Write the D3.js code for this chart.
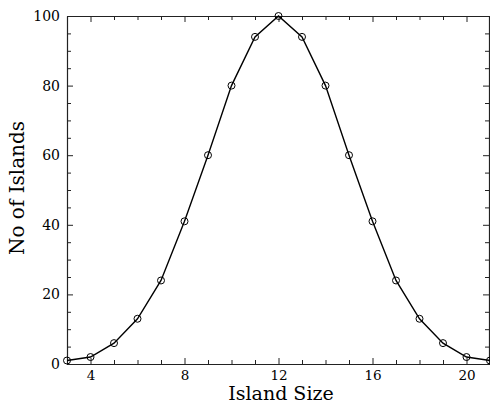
<!DOCTYPE html>
<html>
<head>
<meta charset="utf-8">
<script src="https://cdn.jsdelivr.net/npm/d3@7"></script>
<style>
  html, body { margin: 0; padding: 0; background: #fff; }
  svg { display: block; }
  text { font-family: "DejaVu Serif", serif; fill: #000; }
</style>
</head>
<body>
<svg id="chart" width="490" height="405"></svg>
<script>
// Data
const islandSize = [3, 4, 5, 6, 7, 8, 9, 10, 11, 12, 13, 14, 15, 16, 17, 18, 19, 20, 21];
const noOfIslands = [1, 2, 6, 13, 24, 41, 60, 80, 94, 100, 94, 80, 60, 41, 24, 13, 6, 2, 1];
const xTickLabels = [4, 8, 12, 16, 20];
const yTickLabels = [0, 20, 40, 60, 80, 100];
const xTitle = "Island Size";
const yTitle = "No of Islands";

const svg = d3.select("#chart");
const L = 67, R = 490, T = 16, B = 364;

const x = d3.scaleLinear().domain([3, 21]).range([L, R]);
const y = d3.scaleLinear().domain([0, 100]).range([B, T]);

const xMinor = d3.range(3, 22, 1).filter(v => !xTickLabels.includes(v));
const yMinor = d3.range(0, 101, 5).filter(v => !yTickLabels.includes(v));

function drawAxis(g, axisFn, scale, major, minor, showLabels, pad, fs) {
  const a = axisFn(scale).tickValues(major).tickSizeInner(-6).tickSizeOuter(0).tickPadding(pad);
  if (!showLabels) a.tickFormat("");
  g.call(a);
  const b = axisFn(scale).tickValues(minor).tickSizeInner(-4).tickSizeOuter(0).tickFormat("");
  g.append("g").call(b).select(".domain").remove();
  g.selectAll("line").attr("stroke", "#222").attr("stroke-width", 1);
  g.selectAll(".domain").attr("stroke", "#222").attr("stroke-width", 1.2);
  g.selectAll("text").attr("font-size", fs).attr("font-family", "DejaVu Serif").attr("fill", "#000");
}

drawAxis(svg.append("g").attr("transform", `translate(0,${B})`), d3.axisBottom, x, xTickLabels, xMinor, true, 6.5, 13.5);
drawAxis(svg.append("g").attr("transform", `translate(0,${T})`), d3.axisTop, x, xTickLabels, xMinor, false, 8, 14);
drawAxis(svg.append("g").attr("transform", `translate(${L},0)`), d3.axisLeft, y, yTickLabels, yMinor, true, 7, 14);
drawAxis(svg.append("g").attr("transform", `translate(${R - 1},0)`), d3.axisRight, y, yTickLabels, yMinor, false, 8, 14);

const line = d3.line().x((d, i) => x(islandSize[i])).y(d => y(d));
svg.append("path")
  .datum(noOfIslands)
  .attr("d", line)
  .attr("fill", "none")
  .attr("stroke", "#000")
  .attr("stroke-width", 1.4);

svg.selectAll("circle.pt")
  .data(noOfIslands)
  .enter().append("circle")
  .attr("class", "pt")
  .attr("cx", (d, i) => x(islandSize[i]))
  .attr("cy", d => y(d))
  .attr("r", 3.5)
  .attr("fill", "none")
  .attr("stroke", "#000")
  .attr("stroke-width", 1);

svg.append("text")
  .attr("x", 281)
  .attr("y", 400)
  .attr("text-anchor", "middle")
  .attr("font-size", 19)
  .text(xTitle);

svg.append("text")
  .attr("transform", `translate(24,188) rotate(-90)`)
  .attr("text-anchor", "middle")
  .attr("font-size", 20)
  .text(yTitle);
</script>
</body>
</html>
